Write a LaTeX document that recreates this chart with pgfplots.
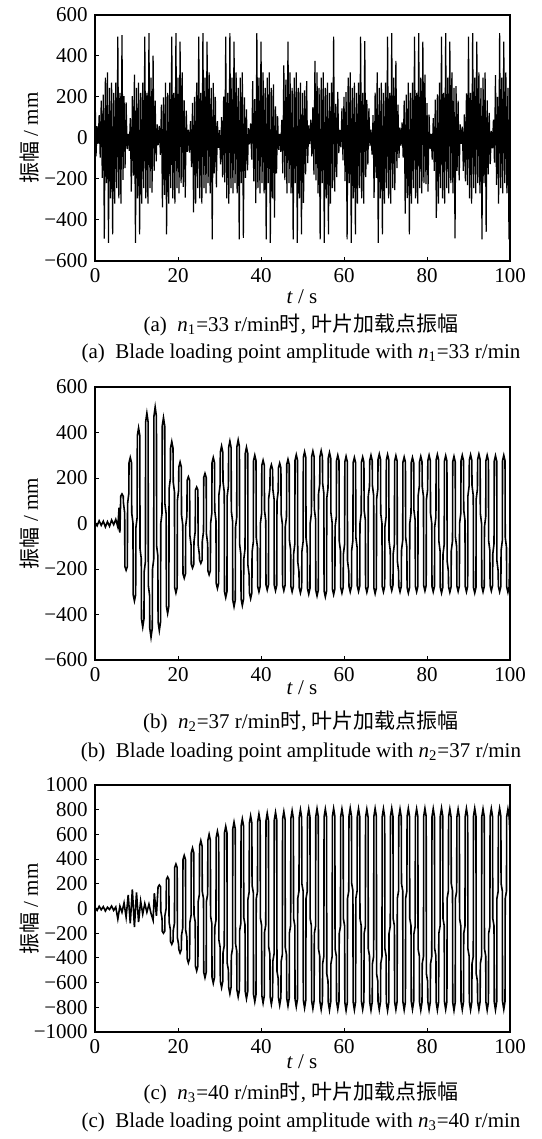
\documentclass[border=0pt]{standalone}
\usepackage{fontspec}
\setmainfont{Liberation Serif}
\newfontfamily\cjk{Noto Sans CJK SC}
\usepackage{pgfplots}
\pgfplotsset{compat=1.18}
\pgfplotsset{
  panel/.style={
    scale only axis, width=207.5pt, anchor=north west,
    xmin=0, xmax=100,
    axis line style={line width=0.6pt},
    tick align=inside, xtick pos=left, ytick pos=left,
    major tick length=2pt,
    tick style={line width=0.5pt, black},
    xtick={0,20,40,60,80,100},
    xticklabels={0,20,40,60,80,100},
    ticklabel style={font=\fontsize{10.5}{12}\selectfont},
  },
  sig/.style={black, line width=0.6pt, mark=none, line join=miter},
}
\begin{document}
\fontsize{10.5}{12}\selectfont
\begin{tikzpicture}
\useasboundingbox (0,0) rectangle (270.5pt,-569.5pt);
% ---------------- panel (a)
\begin{axis}[panel, at={(47.5pt,-7.5pt)}, height=123pt,
  ymin=-600, ymax=600, ytick={-600,-400,-200,0,200,400,600},
  yticklabels={−600,−400,−200,0,200,400,600}]
\addplot[sig] coordinates {
(0,258)(0.25,-89)(0.5,58)(0.75,-29)(1,112)(1.25,-96)(1.5,182)(1.75,-194)(2,212)(2.25,-491)
(2.5,295)(2.75,-220)(3,320)(3.25,-512)(3.5,245)(3.75,-295)(4,270)(4.25,-470)(4.5,220)(4.75,-320)
(5,270)(5.25,-245)(5.5,495)(5.75,-295)(6,220)(6.25,-320)(6.5,502)(6.75,-204)(7,204)(7.25,-147)
(7.5,174)(7.75,-54)(8,20)(8.25,-63)(8.5,97)(8.75,-262)(9,204)(9.25,-184)(9.5,309)(9.75,-512)
(10,245)(10.25,-295)(10.5,270)(10.75,-470)(11,220)(11.25,-320)(11.5,270)(11.75,-245)(12,495)(12.25,-295)
(12.5,220)(12.75,-320)(13,512)(13.25,-245)(13.5,295)(13.75,-267)(14,402)(14.25,-160)(14.5,182)(14.75,-114)
(15,66)(15.25,-35)(15.5,59)(15.75,-82)(16,163)(16.25,-338)(16.5,198)(16.75,-277)(17,270)(17.25,-470)
(17.5,220)(17.75,-320)(18,270)(18.25,-245)(18.5,495)(18.75,-295)(19,220)(19.25,-320)(19.5,512)(19.75,-245)
(20,295)(20.25,-270)(20.5,470)(20.75,-220)(21,320)(21.25,-239)(21.5,184)(21.75,-291)(22,133)(22.25,-68)
(22.5,41)(22.75,-71)(23,82)(23.25,-142)(23.5,171)(23.75,-363)(24,201)(24.25,-320)(24.5,270)(24.75,-245)
(25,495)(25.25,-295)(25.5,220)(25.75,-320)(26,512)(26.25,-245)(26.5,295)(26.75,-270)(27,470)(27.25,-220)
(27.5,320)(27.75,-270)(28,245)(28.25,-495)(28.5,269)(28.75,-172)(29,201)(29.25,-241)(29.5,82)(29.75,-48)
(30,38)(30.25,-129)(30.5,102)(30.75,-192)(31,202)(31.25,-217)(31.5,495)(31.75,-295)(32,220)(32.25,-320)
(32.5,512)(32.75,-245)(33,295)(33.25,-270)(33.5,470)(33.75,-220)(34,320)(34.25,-270)(34.5,245)(34.75,-495)
(35,295)(35.25,-220)(35.5,320)(35.75,-487)(36,198)(36.25,-195)(36.5,139)(36.75,-158)(37,48)(37.25,-31)
(37.5,71)(37.75,-105)(38,277)(38.25,-212)(38.5,190)(38.75,-318)(39,512)(39.25,-245)(39.5,295)(39.75,-270)
(40,470)(40.25,-220)(40.5,320)(40.75,-270)(41,245)(41.25,-495)(41.5,295)(41.75,-220)(42,320)(42.25,-512)
(42.5,245)(42.75,-295)(43,261)(43.25,-389)(43.5,154)(43.75,-173)(44,106)(44.25,-58)(44.5,20)(44.75,-68)
(45,88)(45.25,-173)(45.5,354)(45.75,-205)(46,285)(46.25,-270)(46.5,470)(46.75,-220)(47,320)(47.25,-270)
(47.5,245)(47.75,-495)(48,295)(48.25,-220)(48.5,320)(48.75,-512)(49,245)(49.25,-295)(49.5,270)(49.75,-470)
(50,220)(50.25,-317)(50.5,232)(50.75,-177)(51,277)(51.25,-123)(51.5,61)(51.75,-30)(52,90)(52.25,-90)
(52.5,151)(52.75,-179)(53,376)(53.25,-207)(53.5,320)(53.75,-270)(54,245)(54.25,-495)(54.5,295)(54.75,-220)
(55,320)(55.25,-512)(55.5,245)(55.75,-295)(56,270)(56.25,-470)(56.5,220)(56.75,-320)(57,270)(57.25,-245)
(57.5,495)(57.75,-261)(58,166)(58.25,-191)(58.5,225)(58.75,-74)(59,39)(59.25,-46)(59.5,144)(59.75,-109)
(60,201)(60.25,-210)(60.5,224)(60.75,-495)(61,295)(61.25,-220)(61.5,320)(61.75,-512)(62,245)(62.25,-295)
(62.5,270)(62.75,-470)(63,220)(63.25,-320)(63.5,270)(63.75,-245)(64,495)(64.25,-295)(64.5,220)(64.75,-320)
(65,473)(65.25,-191)(65.5,186)(65.75,-130)(66,144)(66.25,-40)(66.5,41)(66.75,-81)(67,112)(67.25,-292)
(67.5,221)(67.75,-195)(68,320)(68.25,-512)(68.5,245)(68.75,-295)(69,270)(69.25,-470)(69.5,220)(69.75,-320)
(70,270)(70.25,-245)(70.5,495)(70.75,-295)(71,220)(71.25,-320)(71.5,512)(71.75,-245)(72,295)(72.25,-254)
(72.5,376)(72.75,-147)(73,163)(73.25,-97)(73.5,51)(73.75,-37)(74,76)(74.25,-96)(74.5,182)(74.75,-369)
(75,212)(75.25,-293)(75.5,270)(75.75,-470)(76,220)(76.25,-320)(76.5,270)(76.75,-245)(77,495)(77.25,-295)
(77.5,220)(77.75,-320)(78,512)(78.25,-245)(78.5,295)(78.75,-270)(79,470)(79.25,-220)(79.5,309)(79.75,-225)
(80,170)(80.25,-262)(80.5,114)(80.75,-54)(81,20)(81.25,-106)(81.5,97)(81.75,-160)(82,187)(82.25,-390)
(82.5,213)(82.75,-320)(83,270)(83.25,-245)(83.5,495)(83.75,-295)(84,220)(84.25,-320)(84.5,512)(84.75,-245)
(85,295)(85.25,-270)(85.5,470)(85.75,-220)(86,320)(86.25,-270)(86.5,245)(86.75,-490)(87,253)(87.25,-160)
(87.5,182)(87.75,-207)(88,66)(88.25,-29)(88.5,55)(88.75,-160)(89,115)(89.25,-211)(89.5,218)(89.75,-230)
(90,495)(90.25,-295)(90.5,220)(90.75,-320)(91,512)(91.25,-245)(91.5,295)(91.75,-270)(92,470)(92.25,-220)
(92.5,320)(92.75,-270)(93,245)(93.25,-495)(93.5,295)(93.75,-220)(94,320)(94.25,-458)(94.5,184)(94.75,-177)
(95,122)(95.25,-128)(95.5,34)(95.75,-51)(96,89)(96.25,-120)(96.5,307)(96.75,-229)(97,201)(97.25,-320)
(97.5,512)(97.75,-245)(98,295)(98.25,-270)(98.5,470)(98.75,-220)(99,320)(99.25,-270)(99.5,245)(99.75,-495)
(100,295)};
\end{axis}
\node[rotate=90] at (15pt,-69pt) {{\cjk 振幅} / mm};
\node at (151pt,-148.5pt) {\textit{t} / s};
\node at (150.5pt,-162.5pt) {(a)\enspace\textit{n}\textsubscript{1}=33 r/min{\cjk 时}, {\cjk 叶片加载点振幅}};
\node at (150.5pt,-176.5pt) {(a)\enspace Blade loading point amplitude with \textit{n}\textsubscript{1}=33 r/min};
% ---------------- panel (b)
\begin{axis}[panel, at={(47.5pt,-193.5pt)}, height=136.5pt,
  ymin=-600, ymax=600, ytick={-600,-400,-200,0,200,400,600},
  yticklabels={−600,−400,−200,0,200,400,600}]
\addplot[sig, line width=0.8pt] coordinates {
(0,5)(0.5,-10)(1,12)(1.5,-8)(2,10)(2.5,-15)(3,8)(3.5,-12)(4,15)(4.5,-5)(5,18)(5.5,-15)(5.8,70)(6,-40)
(6.2,120)(6.5,130)(6.8,120)(6.85,92)(7.15,47)
(7.2,-189)(7.5,-205)(7.8,-189)(7.85,87)(8.15,132)
(8.2,267)(8.5,290)(8.8,267)(8.85,47)(9.15,2)
(9.2,-313)(9.5,-340)(9.8,-313)(9.85,-19)(10.15,26)
(10.2,386)(10.5,420)(10.8,386)(10.85,-110)(11.15,-155)
(11.2,-419)(11.5,-455)(11.8,-419)(11.85,-212)(12.15,-167)
(12.2,446)(12.5,485)(12.8,446)(12.85,-271)(13.15,-316)
(13.2,-460)(13.5,-500)(13.8,-460)(13.85,-202)(14.15,-157)
(14.2,471)(14.5,512)(14.8,471)(14.85,-98)(15.15,-143)
(15.2,-432)(15.5,-470)(15.8,-432)(15.85,0)(16.15,45)
(16.2,428)(16.5,465)(16.8,428)(16.85,86)(17.15,41)
(17.2,-363)(17.5,-395)(17.8,-363)(17.85,151)(18.15,196)
(18.2,331)(18.5,360)(18.8,331)(18.85,183)(19.15,138)
(19.2,-281)(19.5,-305)(19.8,-281)(19.85,101)(20.15,146)
(20.2,248)(20.5,270)(20.8,248)(20.85,38)(21.15,-7)
(21.2,-221)(21.5,-240)(21.8,-221)(21.85,-11)(22.15,34)
(22.2,189)(22.5,205)(22.8,189)(22.85,-50)(23.15,-95)
(23.2,-179)(23.5,-195)(23.8,-179)(23.85,-80)(24.15,-35)
(24.2,147)(24.5,160)(24.8,147)(24.85,-92)(25.15,-137)
(25.2,-161)(25.5,-175)(25.8,-161)(25.85,-79)(26.15,-34)
(26.2,202)(26.5,220)(26.8,202)(26.85,-45)(27.15,-90)
(27.2,-207)(27.5,-225)(27.8,-207)(27.85,0)(28.15,45)
(28.2,267)(28.5,290)(28.8,267)(28.85,58)(29.15,13)
(29.2,-262)(29.5,-285)(29.8,-262)(29.85,125)(30.15,170)
(30.2,313)(30.5,340)(30.8,313)(30.85,183)(31.15,138)
(31.2,-299)(31.5,-325)(31.8,-299)(31.85,120)(32.15,165)
(32.2,333)(32.5,362)(32.8,333)(32.85,55)(33.15,10)
(33.2,-336)(33.5,-365)(33.8,-336)(33.85,-18)(34.15,27)
(34.2,338)(34.5,367)(34.8,338)(34.85,-91)(35.15,-136)
(35.2,-331)(35.5,-360)(35.8,-331)(35.85,-157)(36.15,-112)
(36.2,308)(36.5,335)(36.8,308)(36.85,-183)(37.15,-228)
(37.2,-304)(37.5,-330)(37.8,-304)(37.85,-126)(38.15,-81)
(38.2,276)(38.5,300)(38.8,276)(38.85,-60)(39.15,-105)
(39.2,-276)(39.5,-300)(39.8,-276)(39.85,0)(40.15,45)
(40.2,256)(40.5,278)(40.8,256)(40.85,57)(41.15,12)
(41.2,-269)(41.5,-292)(41.8,-269)(41.85,110)(42.15,155)
(42.2,237)(42.5,258)(42.8,237)(42.85,152)(43.15,107)
(43.2,-271)(43.5,-295)(43.8,-271)(43.85,98)(44.15,143)
(44.2,244)(44.5,265)(44.8,244)(44.85,42)(45.15,-3)
(45.2,-271)(45.5,-295)(45.8,-271)(45.85,-14)(46.15,31)
(46.2,259)(46.5,282)(46.8,259)(46.85,-73)(47.15,-118)
(47.2,-276)(47.5,-300)(47.8,-276)(47.85,-135)(48.15,-90)
(48.2,278)(48.5,302)(48.8,278)(48.85,-167)(49.15,-212)
(49.2,-281)(49.5,-305)(49.8,-281)(49.85,-124)(50.15,-79)
(50.2,290)(50.5,315)(50.8,290)(50.85,-63)(51.15,-108)
(51.2,-285)(51.5,-310)(51.8,-285)(51.85,0)(52.15,45)
(52.2,293)(52.5,318)(52.8,293)(52.85,64)(53.15,19)
(53.2,-293)(53.5,-318)(53.8,-293)(53.85,128)(54.15,173)
(54.2,294)(54.5,320)(54.8,294)(54.85,177)(55.15,132)
(55.2,-296)(55.5,-322)(55.8,-296)(55.85,111)(56.15,156)
(56.2,287)(56.5,312)(56.8,287)(56.85,47)(57.15,2)
(57.2,-287)(57.5,-312)(57.8,-287)(57.85,-15)(58.15,30)
(58.2,276)(58.5,300)(58.8,276)(58.85,-76)(59.15,-121)
(59.2,-281)(59.5,-305)(59.8,-281)(59.85,-135)(60.15,-90)
(60.2,271)(60.5,295)(60.8,271)(60.85,-164)(61.15,-209)
(61.2,-276)(61.5,-300)(61.8,-276)(61.85,-118)(62.15,-73)
(62.2,267)(62.5,290)(62.8,267)(62.85,-59)(63.15,-104)
(63.2,-274)(63.5,-298)(63.8,-274)(63.85,0)(64.15,45)
(64.2,269)(64.5,292)(64.8,269)(64.85,59)(65.15,14)
(65.2,-278)(65.5,-302)(65.8,-278)(65.85,120)(66.15,165)
(66.2,276)(66.5,300)(66.8,276)(66.85,167)(67.15,122)
(67.2,-283)(67.5,-308)(67.8,-283)(67.85,107)(68.15,152)
(68.2,281)(68.5,305)(68.8,281)(68.85,45)(69.15,0)
(69.2,-276)(69.5,-300)(69.8,-276)(69.85,-15)(70.15,30)
(70.2,279)(70.5,303)(70.8,279)(70.85,-75)(71.15,-120)
(71.2,-271)(71.5,-295)(71.8,-271)(71.85,-134)(72.15,-89)
(72.2,274)(72.5,298)(72.8,274)(72.85,-164)(73.15,-209)
(73.2,-276)(73.5,-300)(73.8,-276)(73.85,-118)(74.15,-73)
(74.2,269)(74.5,292)(74.8,269)(74.85,-60)(75.15,-105)
(75.2,-281)(75.5,-305)(75.8,-281)(75.85,0)(76.15,45)
(76.2,267)(76.5,290)(76.8,267)(76.85,59)(77.15,14)
(77.2,-276)(77.5,-300)(77.8,-276)(77.85,119)(78.15,164)
(78.2,271)(78.5,295)(78.8,271)(78.85,163)(79.15,118)
(79.2,-272)(79.5,-296)(79.8,-272)(79.85,104)(80.15,149)
(80.2,276)(80.5,300)(80.8,276)(80.85,45)(81.15,0)
(81.2,-276)(81.5,-300)(81.8,-276)(81.85,-15)(82.15,30)
(82.2,279)(82.5,303)(82.8,279)(82.85,-76)(83.15,-121)
(83.2,-281)(83.5,-305)(83.8,-281)(83.85,-136)(84.15,-91)
(84.2,274)(84.5,298)(84.8,274)(84.85,-165)(85.15,-210)
(85.2,-278)(85.5,-302)(85.8,-278)(85.85,-120)(86.15,-75)
(86.2,271)(86.5,295)(86.8,271)(86.85,-59)(87.15,-104)
(87.2,-274)(87.5,-298)(87.8,-274)(87.85,0)(88.15,45)
(88.2,276)(88.5,300)(88.8,276)(88.85,60)(89.15,15)
(89.2,-276)(89.5,-300)(89.8,-276)(89.85,120)(90.15,165)
(90.2,278)(90.5,302)(90.8,278)(90.85,167)(91.15,122)
(91.2,-281)(91.5,-305)(91.8,-281)(91.85,107)(92.15,152)
(92.2,281)(92.5,305)(92.8,281)(92.85,45)(93.15,0)
(93.2,-276)(93.5,-300)(93.8,-276)(93.85,-15)(94.15,30)
(94.2,276)(94.5,300)(94.8,276)(94.85,-75)(95.15,-120)
(95.2,-272)(95.5,-296)(95.8,-272)(95.85,-134)(96.15,-89)
(96.2,274)(96.5,298)(96.8,274)(96.85,-164)(97.15,-209)
(97.2,-276)(97.5,-300)(97.8,-276)(97.85,-120)(98.15,-75)
(98.2,276)(98.5,300)(98.8,276)(98.85,-60)(99.15,-105)
(99.2,-278)(99.5,-302)(99.8,-278)(100,-50)};
\end{axis}
\node[rotate=90] at (15pt,-261.75pt) {{\cjk 振幅} / mm};
\node at (151pt,-344pt) {\textit{t} / s};
\node at (150.5pt,-361pt) {(b)\enspace\textit{n}\textsubscript{2}=37 r/min{\cjk 时}, {\cjk 叶片加载点振幅}};
\node at (150.5pt,-376pt) {(b)\enspace Blade loading point amplitude with \textit{n}\textsubscript{2}=37 r/min};
% ---------------- panel (c)
\begin{axis}[panel, at={(47.5pt,-392.5pt)}, height=123.5pt,
  ymin=-1000, ymax=1000, ytick={-1000,-800,-600,-400,-200,0,200,400,600,800,1000},
  yticklabels={−1000,−800,−600,−400,−200,0,200,400,600,800,1000}]
\addplot[sig, line width=0.8pt] coordinates {
(0,10)(0.5,-15)(1,18)(1.5,-10)(2,15)(2.5,-20)(3,10)(3.5,-8)(4,20)(4.5,-15)(5,12)(5.5,-85)
(6,20)(6.5,-30)(7,45)(7.5,-70)(8,110)(8.5,-120)(9,155)(9.5,-150)(10,130)(10.5,-110)(11,60)
(11.5,-45)(12,40)(12.5,-30)(13,35)(13.5,-40)(14,-95)(14.3,125)(14.8,-60)
(15.2,175)(15.5,190)(15.8,175)(15.85,-20)(16.15,-80)
(16.2,-184)(16.5,-200)(16.8,-184)(16.85,-57)(17.15,3)
(17.2,235)(17.5,255)(17.8,235)(17.85,-109)(18.15,-169)
(18.2,-267)(18.5,-290)(18.8,-267)(18.85,-179)(19.15,-119)
(19.2,331)(19.5,360)(19.8,331)(19.85,-234)(20.15,-294)
(20.2,-331)(20.5,-360)(20.8,-331)(20.85,-217)(21.15,-157)
(21.2,396)(21.5,430)(21.8,396)(21.85,-174)(22.15,-234)
(22.2,-405)(22.5,-440)(22.8,-405)(22.85,-116)(23.15,-56)
(23.2,451)(23.5,490)(23.8,451)(23.85,-50)(24.15,-110)
(24.2,-465)(24.5,-505)(24.8,-465)(24.85,53)(25.15,113)
(25.2,506)(25.5,550)(25.8,506)(25.85,139)(26.15,79)
(26.2,-515)(26.5,-560)(26.8,-515)(26.85,58)(27.15,118)
(27.2,552)(27.5,600)(27.8,552)(27.85,-60)(28.15,-120)
(28.2,-557)(28.5,-605)(28.8,-557)(28.85,-154)(29.15,-94)
(29.2,575)(29.5,625)(29.8,575)(29.85,-253)(30.15,-313)
(30.2,-589)(30.5,-640)(30.8,-589)(30.85,-359)(31.15,-299)
(31.2,612)(31.5,665)(31.8,612)(31.85,-441)(32.15,-501)
(32.2,-635)(32.5,-690)(32.8,-635)(32.85,-382)(33.15,-322)
(33.2,644)(33.5,700)(33.8,644)(33.85,-283)(34.15,-343)
(34.2,-658)(34.5,-715)(34.8,-658)(34.85,-180)(35.15,-120)
(35.2,667)(35.5,725)(35.8,667)(35.85,-73)(36.15,-133)
(36.2,-672)(36.5,-730)(36.8,-672)(36.85,74)(37.15,134)
(37.2,690)(37.5,750)(37.8,690)(37.85,188)(38.15,128)
(38.2,-695)(38.5,-755)(38.8,-695)(38.85,76)(39.15,136)
(39.2,704)(39.5,765)(39.8,704)(39.85,-77)(40.15,-137)
(40.2,-704)(40.5,-765)(40.8,-704)(40.85,-192)(41.15,-132)
(41.2,710)(41.5,772)(41.8,710)(41.85,-310)(42.15,-370)
(42.2,-713)(42.5,-775)(42.8,-713)(42.85,-427)(43.15,-367)
(43.2,716)(43.5,778)(43.8,716)(43.85,-507)(44.15,-567)
(44.2,-719)(44.5,-782)(44.8,-719)(44.85,-431)(45.15,-371)
(45.2,722)(45.5,785)(45.8,722)(45.85,-315)(46.15,-375)
(46.2,-725)(46.5,-788)(46.8,-725)(46.85,-198)(47.15,-138)
(47.2,729)(47.5,792)(47.8,729)(47.85,-79)(48.15,-139)
(48.2,-731)(48.5,-795)(48.8,-731)(48.85,80)(49.15,140)
(49.2,736)(49.5,800)(49.8,736)(49.85,201)(50.15,141)
(50.2,-741)(50.5,-805)(50.8,-741)(50.85,81)(51.15,141)
(51.2,741)(51.5,805)(51.8,741)(51.85,-81)(52.15,-141)
(52.2,-745)(52.5,-810)(52.8,-745)(52.85,-203)(53.15,-143)
(53.2,743)(53.5,808)(53.8,743)(53.85,-325)(54.15,-385)
(54.2,-753)(54.5,-818)(54.8,-753)(54.85,-447)(55.15,-387)
(55.2,741)(55.5,805)(55.8,741)(55.85,-528)(56.15,-588)
(56.2,-756)(56.5,-822)(56.8,-756)(56.85,-447)(57.15,-387)
(57.2,745)(57.5,810)(57.8,745)(57.85,-325)(58.15,-385)
(58.2,-750)(58.5,-815)(58.8,-750)(58.85,-203)(59.15,-143)
(59.2,742)(59.5,806)(59.8,742)(59.85,-81)(60.15,-141)
(60.2,-759)(60.5,-825)(60.8,-759)(60.85,81)(61.15,141)
(61.2,747)(61.5,812)(61.8,747)(61.85,203)(62.15,143)
(62.2,-754)(62.5,-820)(62.8,-754)(62.85,81)(63.15,141)
(63.2,743)(63.5,808)(63.8,743)(63.85,-81)(64.15,-141)
(64.2,-752)(64.5,-817)(64.8,-752)(64.85,-203)(65.15,-143)
(65.2,740)(65.5,804)(65.8,740)(65.85,-325)(66.15,-385)
(66.2,-757)(66.5,-823)(66.8,-757)(66.85,-447)(67.15,-387)
(67.2,745)(67.5,810)(67.8,745)(67.85,-528)(68.15,-588)
(68.2,-753)(68.5,-819)(68.8,-753)(68.85,-447)(69.15,-387)
(69.2,742)(69.5,807)(69.8,742)(69.85,-325)(70.15,-385)
(70.2,-760)(70.5,-826)(70.8,-760)(70.85,-203)(71.15,-143)
(71.2,746)(71.5,811)(71.8,746)(71.85,-81)(72.15,-141)
(72.2,-753)(72.5,-818)(72.8,-753)(72.85,81)(73.15,141)
(73.2,741)(73.5,805)(73.8,741)(73.85,203)(74.15,143)
(74.2,-755)(74.5,-821)(74.8,-755)(74.85,81)(75.15,141)
(75.2,744)(75.5,809)(75.8,744)(75.85,-81)(76.15,-141)
(76.2,-751)(76.5,-816)(76.8,-751)(76.85,-203)(77.15,-143)
(77.2,742)(77.5,806)(77.8,742)(77.85,-325)(78.15,-385)
(78.2,-758)(78.5,-824)(78.8,-758)(78.85,-447)(79.15,-387)
(79.2,745)(79.5,810)(79.8,745)(79.85,-528)(80.15,-588)
(80.2,-754)(80.5,-820)(80.8,-754)(80.85,-447)(81.15,-387)
(81.2,743)(81.5,808)(81.8,743)(81.85,-325)(82.15,-385)
(82.2,-756)(82.5,-822)(82.8,-756)(82.85,-203)(83.15,-143)
(83.2,747)(83.5,812)(83.8,747)(83.85,-81)(84.15,-141)
(84.2,-752)(84.5,-817)(84.8,-752)(84.85,81)(85.15,141)
(85.2,742)(85.5,806)(85.8,742)(85.85,203)(86.15,143)
(86.2,-759)(86.5,-825)(86.8,-759)(86.85,81)(87.15,141)
(87.2,740)(87.5,804)(87.8,740)(87.85,-81)(88.15,-141)
(88.2,-753)(88.5,-819)(88.8,-753)(88.85,-203)(89.15,-143)
(89.2,744)(89.5,809)(89.8,744)(89.85,-325)(90.15,-385)
(90.2,-755)(90.5,-821)(90.8,-755)(90.85,-447)(91.15,-387)
(91.2,746)(91.5,811)(91.8,746)(91.85,-528)(92.15,-588)
(92.2,-753)(92.5,-818)(92.8,-753)(92.85,-447)(93.15,-387)
(93.2,742)(93.5,806)(93.8,742)(93.85,-325)(94.15,-385)
(94.2,-757)(94.5,-823)(94.8,-757)(94.85,-203)(95.15,-143)
(95.2,743)(95.5,808)(95.8,743)(95.85,-81)(96.15,-141)
(96.2,-754)(96.5,-820)(96.8,-754)(96.85,81)(97.15,141)
(97.2,745)(97.5,810)(97.8,745)(97.85,203)(98.15,143)
(98.2,-751)(98.5,-816)(98.8,-751)(98.85,81)(99.15,141)
(99.2,741)(99.5,805)(99.8,741)(100,600)};
\end{axis}
\node[rotate=90] at (15pt,-454.5pt) {{\cjk 振幅} / mm};
\node at (151pt,-531pt) {\textit{t} / s};
\node at (150.5pt,-546.5pt) {(c)\enspace\textit{n}\textsubscript{3}=40 r/min{\cjk 时}, {\cjk 叶片加载点振幅}};
\node at (150.5pt,-561pt) {(c)\enspace Blade loading point amplitude with \textit{n}\textsubscript{3}=40 r/min};
\end{tikzpicture}
\end{document}
